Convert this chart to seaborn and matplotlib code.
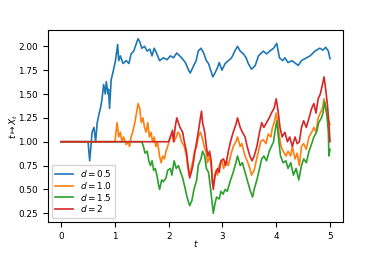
import matplotlib
matplotlib.use("Agg")
import matplotlib.pyplot as plt
import seaborn as sns
import pandas as pd

# ---- data ----
t_d05 = [0, 0.50, 0.53, 0.575, 0.61, 0.64, 0.67, 0.70, 0.73, 0.76,
         0.79, 0.82, 0.84, 0.87, 0.88, 0.90, 0.93, 0.96, 1.01, 1.05,
         1.07, 1.10, 1.15, 1.21, 1.26, 1.30, 1.35, 1.38, 1.43, 1.46,
         1.50, 1.55, 1.60, 1.65, 1.69, 1.73, 1.78, 1.83, 1.90, 1.97,
         2.03, 2.09, 2.15, 2.24, 2.31, 2.37, 2.40, 2.45, 2.51, 2.55,
         2.60, 2.65, 2.70, 2.74, 2.78, 2.82, 2.86, 2.91, 2.94, 2.99,
         3.05, 3.11, 3.17, 3.23, 3.28, 3.33, 3.39, 3.44, 3.48, 3.54,
         3.61, 3.67, 3.76, 3.82, 3.88, 3.95, 4.01, 4.06, 4.12, 4.16,
         4.22, 4.29, 4.41, 4.47, 4.53, 4.63, 4.72, 4.81, 4.87, 4.92, 4.97, 5.00]
x_d05 = [1.0, 1.0, 0.80, 1.1, 1.15, 1.0, 1.2, 1.28, 1.35, 1.45,
         1.6, 1.5, 1.63, 1.5, 1.55, 1.35, 1.65, 1.72, 1.85, 2.02,
         1.85, 1.9, 1.82, 1.85, 1.82, 1.92, 1.95, 2.0, 2.08, 2.05,
         1.98, 2.0, 1.95, 1.97, 1.9, 1.98, 1.92, 1.85, 1.88, 1.86,
         1.9, 1.88, 1.93, 1.88, 1.83, 1.75, 1.72, 1.78, 1.85, 1.95,
         1.98, 1.93, 1.85, 1.82, 1.75, 1.68, 1.72, 1.78, 1.83, 1.75,
         1.82, 1.85, 1.88, 1.95, 2.0, 1.95, 1.92, 1.88, 1.82, 1.76,
         1.8, 1.9, 1.95, 1.92, 1.95, 1.98, 2.03, 1.88, 1.85, 1.88,
         1.83, 1.85, 1.8, 1.85, 1.87, 1.9, 1.95, 1.98, 1.96, 1.99, 1.95, 1.87]

t_d10 = [0, 1.00, 1.04, 1.07, 1.10, 1.13, 1.16, 1.21, 1.26, 1.27,
         1.30, 1.33, 1.37, 1.40, 1.43, 1.46, 1.49, 1.52, 1.55, 1.58,
         1.61, 1.64, 1.67, 1.70, 1.73, 1.76, 1.79, 1.83, 1.86, 1.89,
         1.92, 1.95, 1.98, 2.03, 2.07, 2.10, 2.14, 2.17, 2.20, 2.24,
         2.29, 2.33, 2.35, 2.38, 2.41, 2.45, 2.48, 2.52, 2.55, 2.59,
         2.62, 2.66, 2.70, 2.72, 2.76, 2.79, 2.82, 2.85, 2.88, 2.91,
         2.94, 2.99, 3.02, 3.07, 3.11, 3.15, 3.20, 3.25, 3.28, 3.33,
         3.36, 3.42, 3.46, 3.51, 3.54, 3.59, 3.62, 3.67, 3.71, 3.76,
         3.81, 3.85, 3.90, 3.93, 3.96, 4.00, 4.03, 4.06, 4.09, 4.13,
         4.18, 4.22, 4.27, 4.30, 4.35, 4.39, 4.43, 4.47, 4.51, 4.56,
         4.61, 4.66, 4.70, 4.74, 4.78, 4.82, 4.86, 4.89, 4.92, 4.95, 5.00]
x_d10 = [1.0, 1.0, 1.2, 1.05, 1.1, 1.0, 1.05, 0.97, 1.0, 0.95,
         1.05, 1.1, 1.2, 1.3, 1.4, 1.35, 1.2, 1.25, 1.15, 1.1,
         1.2, 1.05, 1.1, 1.0, 1.05, 0.95, 1.0, 0.85, 0.78, 0.85,
         0.82, 0.9, 0.95, 1.05, 1.08, 1.0, 1.05, 1.1, 1.08, 1.0,
         0.95, 0.85, 0.75, 0.65, 0.7, 0.8, 0.9, 0.95, 1.05, 1.1,
         1.05, 0.95, 0.88, 0.78, 0.85, 0.75, 0.55, 0.6, 0.7, 0.65,
         0.75, 0.8, 0.72, 0.8, 0.75, 0.85, 0.95, 1.0, 1.05, 0.95,
         0.98, 0.85, 0.8, 0.72, 0.65, 0.7, 0.78, 0.9, 1.0, 1.02,
         0.98, 1.08, 1.05, 1.15, 1.2, 1.3, 1.2, 1.05, 0.95, 0.9,
         0.85, 0.9, 0.85, 0.95, 0.82, 0.88, 0.75, 0.95, 0.98, 0.92,
         1.05, 1.1, 1.15, 1.1, 1.25, 1.3, 1.35, 1.45, 1.35, 1.25, 1.18]

t_d15 = [0, 1.50, 1.53, 1.56, 1.60, 1.63, 1.66, 1.69, 1.72, 1.75,
         1.78, 1.81, 1.83, 1.87, 1.90, 1.95, 1.98, 2.03, 2.06, 2.10,
         2.14, 2.18, 2.21, 2.26, 2.31, 2.34, 2.39, 2.43, 2.47, 2.52,
         2.55, 2.60, 2.63, 2.67, 2.70, 2.74, 2.77, 2.81, 2.83, 2.86,
         2.89, 2.94, 2.97, 3.01, 3.05, 3.09, 3.14, 3.20, 3.25, 3.28,
         3.33, 3.37, 3.42, 3.46, 3.51, 3.56, 3.59, 3.64, 3.69, 3.73,
         3.77, 3.82, 3.87, 3.91, 3.95, 3.98, 4.01, 4.05, 4.08, 4.13,
         4.18, 4.22, 4.27, 4.32, 4.37, 4.42, 4.47, 4.51, 4.56, 4.61,
         4.66, 4.70, 4.75, 4.79, 4.84, 4.87, 4.90, 4.94, 4.97, 4.98, 5.00]
x_d15 = [1.0, 1.0, 0.95, 0.88, 0.9, 0.8, 0.75, 0.8, 0.7, 0.72,
         0.65, 0.55, 0.5, 0.6, 0.58, 0.62, 0.7, 0.72, 0.65, 0.8,
         0.72, 0.75, 0.7, 0.62, 0.5, 0.42, 0.33, 0.38, 0.5, 0.6,
         0.75, 0.82, 0.9, 0.85, 0.72, 0.68, 0.55, 0.35, 0.25, 0.35,
         0.42, 0.4, 0.48, 0.45, 0.5, 0.48, 0.58, 0.68, 0.78, 0.85,
         0.75, 0.78, 0.68, 0.6, 0.5, 0.42, 0.5, 0.6, 0.72, 0.82,
         0.85, 0.8, 0.9, 0.95, 1.0, 1.12, 1.22, 1.0, 0.85, 0.78,
         0.8, 0.72, 0.78, 0.65, 0.72, 0.6, 0.75, 0.82, 0.78, 0.9,
         0.98, 1.05, 1.1, 1.2, 1.25, 1.3, 1.42, 1.3, 1.1, 0.85, 0.92]

t_d20 = [0, 2.00, 2.03, 2.07, 2.09, 2.12, 2.15, 2.18, 2.21, 2.26,
         2.29, 2.33, 2.36, 2.39, 2.42, 2.45, 2.49, 2.52, 2.55, 2.59,
         2.61, 2.63, 2.67, 2.70, 2.73, 2.76, 2.79, 2.81, 2.83, 2.86,
         2.91, 2.94, 2.97, 3.02, 3.06, 3.11, 3.15, 3.20, 3.25, 3.28,
         3.33, 3.37, 3.42, 3.46, 3.51, 3.55, 3.59, 3.64, 3.69, 3.73,
         3.77, 3.82, 3.87, 3.91, 3.96, 4.00, 4.04, 4.07, 4.11, 4.16,
         4.21, 4.25, 4.30, 4.35, 4.39, 4.43, 4.47, 4.51, 4.56, 4.61,
         4.66, 4.70, 4.74, 4.78, 4.82, 4.86, 4.89, 4.92, 4.95, 4.98, 5.00]
x_d20 = [1.0, 1.0, 1.05, 1.12, 1.0, 1.15, 1.25, 1.2, 1.15, 1.1,
         1.0, 0.9, 0.75, 0.62, 0.68, 0.75, 0.9, 1.0, 1.1, 1.25,
         1.32, 1.2, 1.1, 0.95, 0.85, 0.9, 0.8, 0.6, 0.5, 0.65,
         0.72, 0.68, 0.8, 0.82, 0.75, 0.9, 1.0, 1.1, 1.18, 1.25,
         1.15, 1.1, 1.05, 0.95, 0.85, 0.8, 0.85, 0.95, 1.1, 1.2,
         1.15, 1.2, 1.25, 1.3, 1.35, 1.45, 1.3, 1.15, 1.05, 1.1,
         1.0, 1.05, 0.95, 1.05, 0.98, 1.0, 1.15, 1.22, 1.15, 1.25,
         1.35, 1.4, 1.3, 1.45, 1.5, 1.6, 1.68, 1.55, 1.4, 1.2, 1.0]

labels = ["$d = 0.5$", "$d = 1.0$", "$d = 1.5$", "$d = 2$"]
colors = ["#1f77b4", "#ff7f0e", "#2ca02c", "#d62728"]

series = [(t_d05, x_d05), (t_d10, x_d10), (t_d15, x_d15), (t_d20, x_d20)]

plt.rcParams["font.size"] = 6.4
fig = plt.figure(figsize=(3.82, 2.54), dpi=100)
ax = fig.add_axes([0.125, 0.126, 0.774, 0.756])

for (tt, xx), lab, col in zip(series, labels, colors):
    df = pd.DataFrame({"t": tt, "x": xx})
    sns.lineplot(data=df, x="t", y="x", ax=ax, color=col, label=lab,
                 linewidth=1.2, estimator=None, sort=False)

ax.set_xlabel("$t$", labelpad=-2)
ax.set_ylabel(r"$t \mapsto X_t$", labelpad=-1)
ax.legend(loc="lower left", labelspacing=0.1, borderpad=0.35)
fig.savefig("out.png", dpi=100)
